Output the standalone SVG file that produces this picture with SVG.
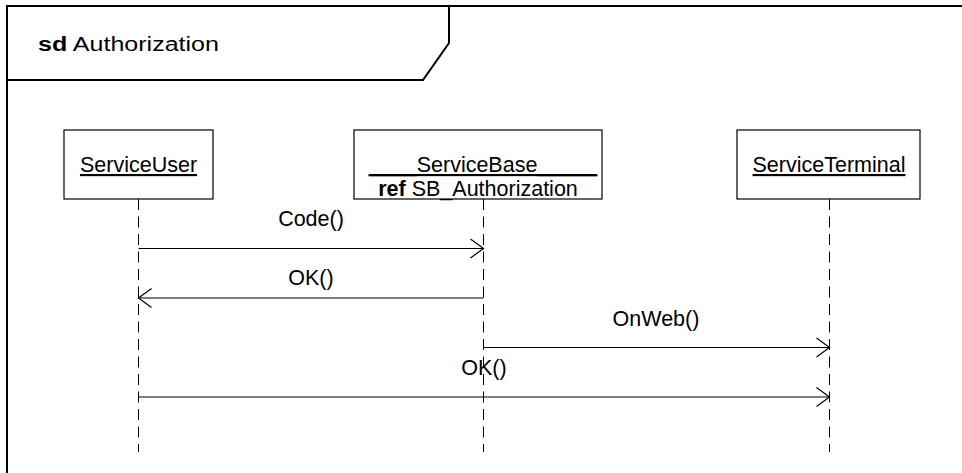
<svg xmlns="http://www.w3.org/2000/svg" width="962" height="473" viewBox="0 0 962 473">
  <style>
    text { font-family: "Liberation Sans", Arial, sans-serif; font-size: 21.5px; fill: #000; }
    .b { font-weight: bold; }
    .u { text-decoration: underline; }
    .box { fill: #fff; stroke: #000; stroke-width: 1.2; }
    .life { stroke: #000; stroke-width: 1; stroke-dasharray: 11 6.5; fill: none; }
    .msg { stroke: #000; stroke-width: 1.2; fill: none; }
    .frame { stroke: #000; stroke-width: 2; fill: none; }
  </style>
  <defs>
    <marker id="open" viewBox="0 0 16 22" refX="14" refY="11" markerWidth="16" markerHeight="22" markerUnits="userSpaceOnUse" orient="auto">
      <path d="M1,1.5 L14,11 L1,20.5" fill="none" stroke="#000" stroke-width="1.2"/>
    </marker>
  </defs>
  <rect width="962" height="473" fill="#fff"/>

  <!-- diagram frame with name tab -->
  <g id="frame">
    <path class="frame" d="M7,480 V6 H970"/>
    <path class="frame" stroke-width="1.6" d="M7,80 H423 L449,43 V6"/>
    <text x="38" y="51" textLength="181" lengthAdjust="spacingAndGlyphs" style="font-size:20px"><tspan class="b">sd</tspan> Authorization</text>
  </g>

  <!-- lifelines -->
  <g id="lifelines">
    <line class="life" x1="138.5" y1="199" x2="138.5" y2="452"/>
    <line class="life" x1="483.5" y1="199" x2="483.5" y2="452"/>
    <line class="life" x1="829.5" y1="199" x2="829.5" y2="452"/>
  </g>

  <g id="ServiceUser">
    <rect class="box" x="64" y="130" width="149" height="69"/>
    <text class="u" x="138.5" y="172" text-anchor="middle">ServiceUser</text>
  </g>

  <g id="ServiceBase">
    <rect class="box" x="354" y="130" width="248" height="69"/>
    <text class="u" x="483" y="172" text-anchor="middle">____ServiceBase_____</text>
    <text x="478" y="196" text-anchor="middle"><tspan class="b">ref</tspan> SB_Authorization</text>
  </g>

  <g id="ServiceTerminal">
    <rect class="box" x="737" y="130" width="183" height="69"/>
    <text class="u" x="829" y="172" text-anchor="middle">ServiceTerminal</text>
  </g>

  <!-- messages -->
  <g id="connectors">
    <line class="msg" x1="138.5" y1="248.5" x2="483.5" y2="248.5" marker-end="url(#open)"/>
    <text x="311" y="226" text-anchor="middle">Code()</text>

    <line class="msg" x1="483.5" y1="298" x2="138.5" y2="298" marker-end="url(#open)"/>
    <text x="311" y="285" text-anchor="middle">OK()</text>

    <line class="msg" x1="483.5" y1="347.5" x2="829.5" y2="347.5" marker-end="url(#open)"/>
    <text x="656" y="326" text-anchor="middle">OnWeb()</text>

    <line class="msg" x1="138.5" y1="397" x2="829.5" y2="397" marker-end="url(#open)"/>
    <text x="484" y="375" text-anchor="middle">OK()</text>
  </g>
</svg>
